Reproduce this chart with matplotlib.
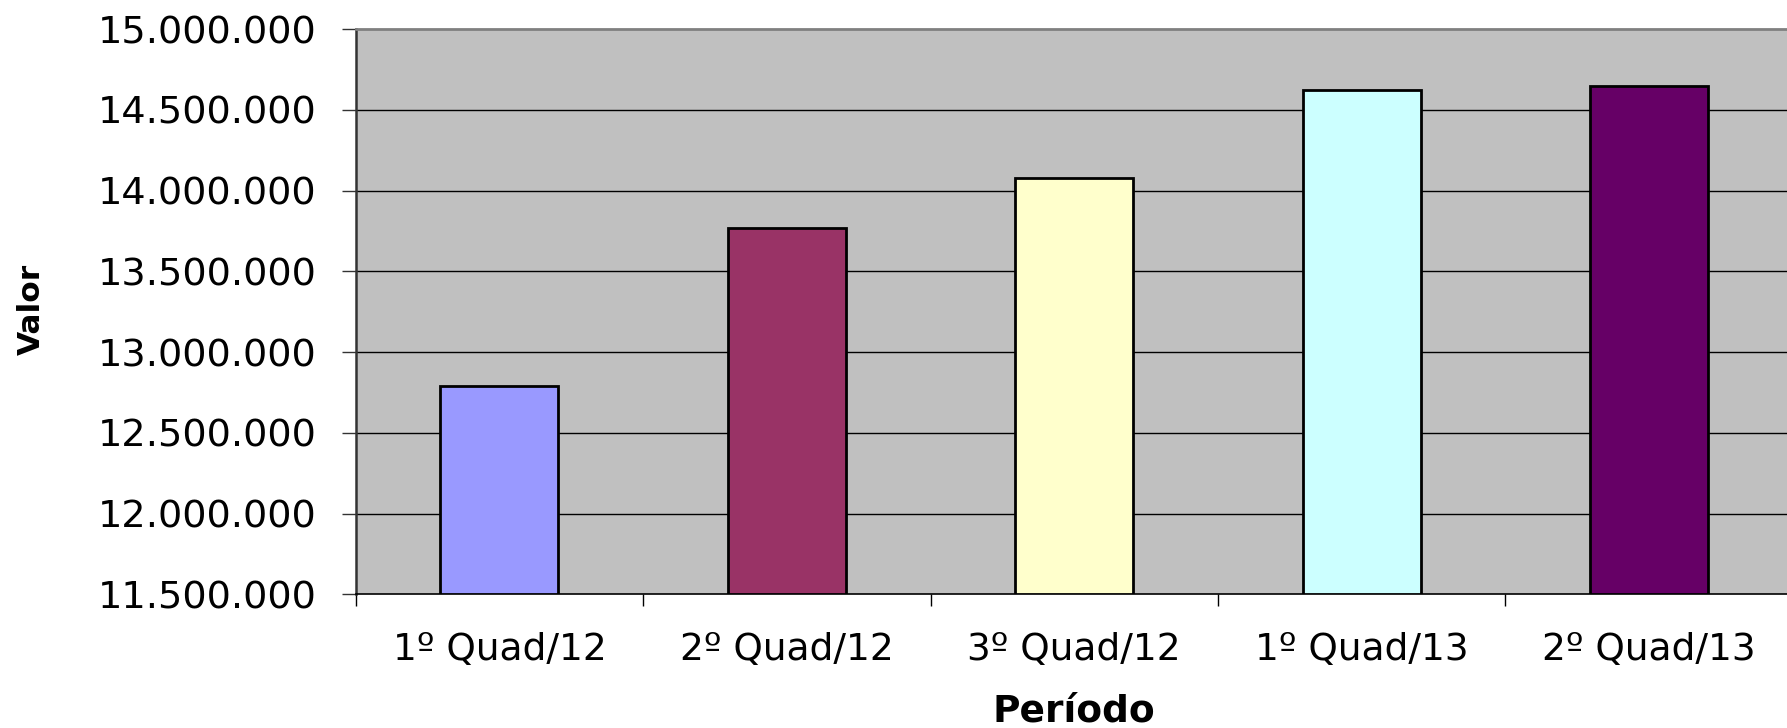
import matplotlib
matplotlib.use("Agg")
import matplotlib.pyplot as plt
from matplotlib.ticker import FuncFormatter, FixedLocator

categories = ["1º Quad/12", "2º Quad/12", "3º Quad/12", "1º Quad/13", "2º Quad/13"]
values = [12787000, 13767000, 14080000, 14621000, 14647000]
colors = ["#9999FF", "#993366", "#FFFFCC", "#CCFFFF", "#660066"]
y_ticks = [11500000, 12000000, 12500000, 13000000, 13500000, 14000000, 14500000, 15000000]

W, H = 1787, 728
fig = plt.figure(figsize=(W / 100, H / 100), dpi=100)
left, right, top, bottom = 355.7, 1792.7, 29.0, 594.3
ax = fig.add_axes([left / W, 1 - bottom / H, (right - left) / W, (bottom - top) / H])
ax.set_facecolor("#C0C0C0")

x = list(range(len(categories)))
ax.bar(x, [v - y_ticks[0] for v in values], bottom=y_ticks[0], width=0.41,
       color=colors, edgecolor="black", linewidth=2.0, zorder=3)

ax.set_xlim(-0.5, len(categories) - 0.5)
ax.set_ylim(y_ticks[0], y_ticks[-1])

ax.yaxis.set_major_locator(FixedLocator(y_ticks))
ax.yaxis.set_major_formatter(FuncFormatter(lambda v, p: f"{int(round(v)):,}".replace(",", ".")))
for v in y_ticks[1:-1]:
    ax.axhline(v, color="black", linewidth=1.0, zorder=1)

ax.set_xticks(x)
ax.set_xticklabels(categories)
ax.set_xticks([i - 0.5 for i in range(len(categories) + 1)], minor=True)
ax.tick_params(axis="x", which="major", length=0, pad=27, labelsize=27)
ax.tick_params(axis="x", which="minor", length=8.6, width=1.0, color="black", direction="out")
ax.tick_params(axis="y", which="major", length=10, width=1.0, color="#333333",
               direction="out", pad=18, labelsize=27.5)
for lab in ax.get_xticklabels() + ax.get_yticklabels():
    lab.set_family("DejaVu Sans")

ax.spines["left"].set_color("#333333")
ax.spines["left"].set_linewidth(1.8)
ax.spines["bottom"].set_color("black")
ax.spines["bottom"].set_linewidth(1.2)
ax.spines["top"].set_color("#808080")
ax.spines["top"].set_linewidth(2.0)
ax.spines["right"].set_visible(False)

fig.text(31 / W, 1 - 309 / H, "Valor", rotation=90, ha="center", va="center",
         fontsize=22.5, fontweight="bold", family="DejaVu Sans")
fig.text((left + right) / 2 / W, 1 - 711 / H, "Período", ha="center", va="center",
         fontsize=27, fontweight="bold", family="DejaVu Sans")

fig.savefig("out.png", dpi=100)
